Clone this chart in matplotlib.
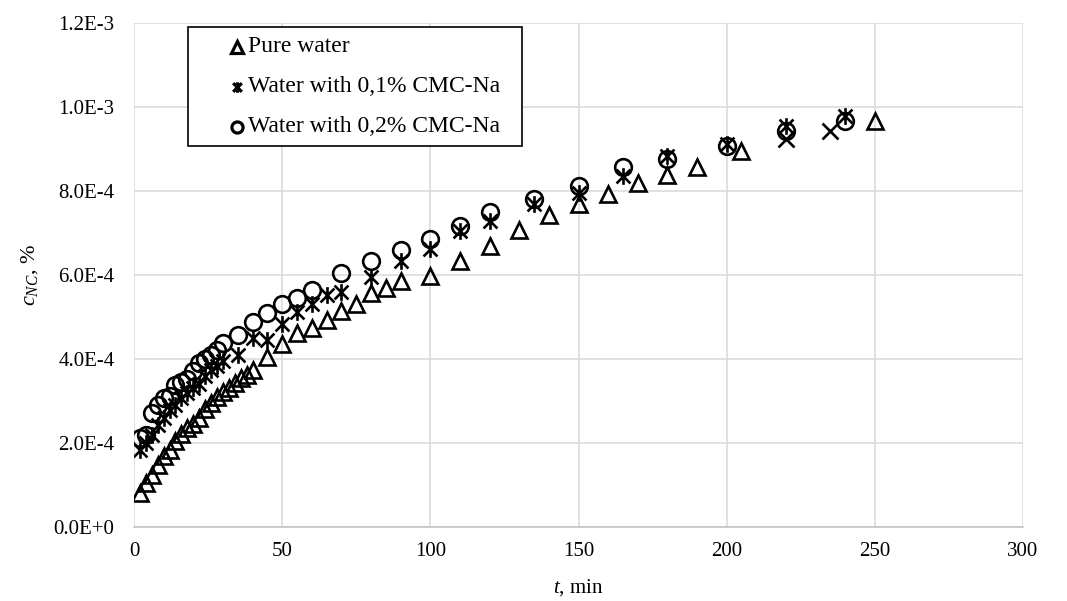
import numpy as np
import matplotlib
matplotlib.use("Agg")
import matplotlib.pyplot as plt
from matplotlib.path import Path
from matplotlib.lines import Line2D
from matplotlib.patches import Rectangle

plt.rcParams['font.family'] = ['Liberation Serif', 'DejaVu Serif']
plt.rcParams['mathtext.fontset'] = 'custom'
plt.rcParams['mathtext.rm'] = 'Liberation Serif'
plt.rcParams['mathtext.it'] = 'Liberation Serif:italic'

# pure water
t_pure = [2, 4, 6, 8, 10, 12, 14, 16, 18, 20, 22, 24, 26, 28, 30, 32, 34, 36, 38, 40,
          45, 50, 55, 60, 65, 70, 75, 80, 85, 90,
          100, 110, 120, 130, 140, 150, 160, 170, 180, 190, 205, 250]
c_pure = [0.80, 1.05, 1.25, 1.48, 1.68, 1.84, 2.04, 2.22, 2.36, 2.45,
          2.60, 2.80, 2.95, 3.10, 3.22, 3.32, 3.43, 3.55, 3.63, 3.73,
          4.05, 4.36, 4.62, 4.74, 4.94, 5.14, 5.32, 5.58, 5.69, 5.85,
          5.97, 6.34, 6.70, 7.08, 7.42, 7.70, 7.92, 8.18, 8.37, 8.58, 8.96, 9.66]

# water with 0,1% CMC-Na
t_cmc1 = [2, 4, 6, 8, 10, 12, 14, 16, 18, 20, 22, 24, 26, 28, 30,
          35, 40, 45, 50, 55, 60, 65, 70, 80, 90, 100, 110, 120,
          135, 150, 165, 180, 200, 220, 240]
c_cmc1 = [1.84, 2.00, 2.20, 2.43, 2.59, 2.79, 2.91, 3.07, 3.20, 3.30,
          3.40, 3.59, 3.75, 3.83, 3.95,
          4.10, 4.50, 4.46, 4.84, 5.12, 5.30, 5.53, 5.60, 5.96, 6.33, 6.62, 7.05, 7.29,
          7.70, 7.96, 8.36, 8.84, 9.12, 9.55, 9.79]

# extra points drawn as plain crosses
t_cross = [220, 235]
c_cross = [9.25, 9.42]

# water with 0,2% CMC-Na
t_cmc2 = [2, 4, 6, 8, 10, 12, 14, 16, 18, 20, 22, 24, 26, 28, 30,
          35, 40, 45, 50, 55, 60, 70, 80, 90, 100, 110, 120,
          135, 150, 165, 180, 200, 220, 240]
c_cmc2 = [2.12, 2.20, 2.72, 2.90, 3.07, 3.12, 3.38, 3.45, 3.52, 3.72,
          3.90, 4.00, 4.10, 4.22, 4.38,
          4.58, 4.88, 5.10, 5.30, 5.46, 5.64, 6.05, 6.33, 6.60, 6.85, 7.17, 7.51,
          7.80, 8.12, 8.56, 8.76, 9.08, 9.43, 9.67]

labels = ["Pure water", "Water with 0,1% CMC-Na", "Water with 0,2% CMC-Na"]
x_ticks = [0, 50, 100, 150, 200, 250, 300]
y_ticks = [0, 2e-4, 4e-4, 6e-4, 8e-4, 1e-3, 1.2e-3]
y_tick_labels = ["0.0E+0", "2.0E-4", "4.0E-4", "6.0E-4", "8.0E-4", "1.0E-3", "1.2E-3"]

scale = 1e-4
W, H = 1067, 601

# excel style star: a cross with a vertical bar
star = Path([(-1, -1), (1, 1), (-1, 1), (1, -1), (0, -1.2), (0, 1.2)],
            [Path.MOVETO, Path.LINETO, Path.MOVETO, Path.LINETO, Path.MOVETO, Path.LINETO])

fig = plt.figure(figsize=(W / 100, H / 100), dpi=100)
ax = fig.add_axes([134 / W, 1 - 527 / H, (1023 - 134) / W, (527 - 23) / H])

mk = dict(linestyle='none', markerfacecolor='none', markeredgecolor='black', markeredgewidth=1.9)
ax.plot(t_pure, np.array(c_pure) * scale, marker='^', markersize=12, **mk)
ax.plot(t_cmc1, np.array(c_cmc1) * scale, marker=star, markersize=12, **mk)
ax.plot(t_cross, np.array(c_cross) * scale, marker='x', markersize=11, **mk)
ax.plot(t_cmc2, np.array(c_cmc2) * scale, marker='o', markersize=12, **mk)

ax.set_xlim(0, 300)
ax.set_ylim(0, 1.2e-3)
ax.set_xticks(x_ticks)
ax.set_yticks(y_ticks)
ax.set_yticklabels(y_tick_labels)
ax.tick_params(length=0, labelsize=15, colors='black')
ax.tick_params(axis='x', pad=11)
ax.tick_params(axis='y', pad=14)
ax.grid(True, color='#d9d9d9', linewidth=1.1)
ax.set_axisbelow(True)
for s in ['top', 'right', 'left']:
    ax.spines[s].set_visible(False)
ax.spines['bottom'].set_color('#bfbfbf')
ax.spines['bottom'].set_linewidth(1.1)

ax.set_xlabel(r'$t$, min', fontsize=15)
ax.xaxis.set_label_coords(0.5, -(577 - 527) / (527 - 23), transform=ax.transAxes)
ax.set_ylabel(r'$c_{NC}$, %', fontsize=16)
ax.yaxis.set_label_coords(-(134 - 40) / (1023 - 134), 0.5, transform=ax.transAxes)

# legend box drawn in figure pixels
fig.add_artist(Rectangle((188 / W, 1 - 146 / H), (522 - 188) / W, (146 - 27) / H,
                         transform=fig.transFigure, facecolor='white', edgecolor='black',
                         linewidth=1.2, zorder=5))
leg_markers = ['^', star, 'o']
leg_sizes = [8, 7.5, 8]
for i, (lab, m, ms) in enumerate(zip(labels, leg_markers, leg_sizes)):
    yy = 1 - (47 + 40 * i) / H
    fig.add_artist(Line2D([237 / W], [yy], transform=fig.transFigure, marker=m, markersize=ms,
                          linestyle='none', markerfacecolor='none', markeredgecolor='black',
                          markeredgewidth=2.3, zorder=6))
    fig.text(248 / W, yy, lab, fontsize=17, va='center', ha='left', zorder=6)

fig.savefig("out.png", dpi=100)
